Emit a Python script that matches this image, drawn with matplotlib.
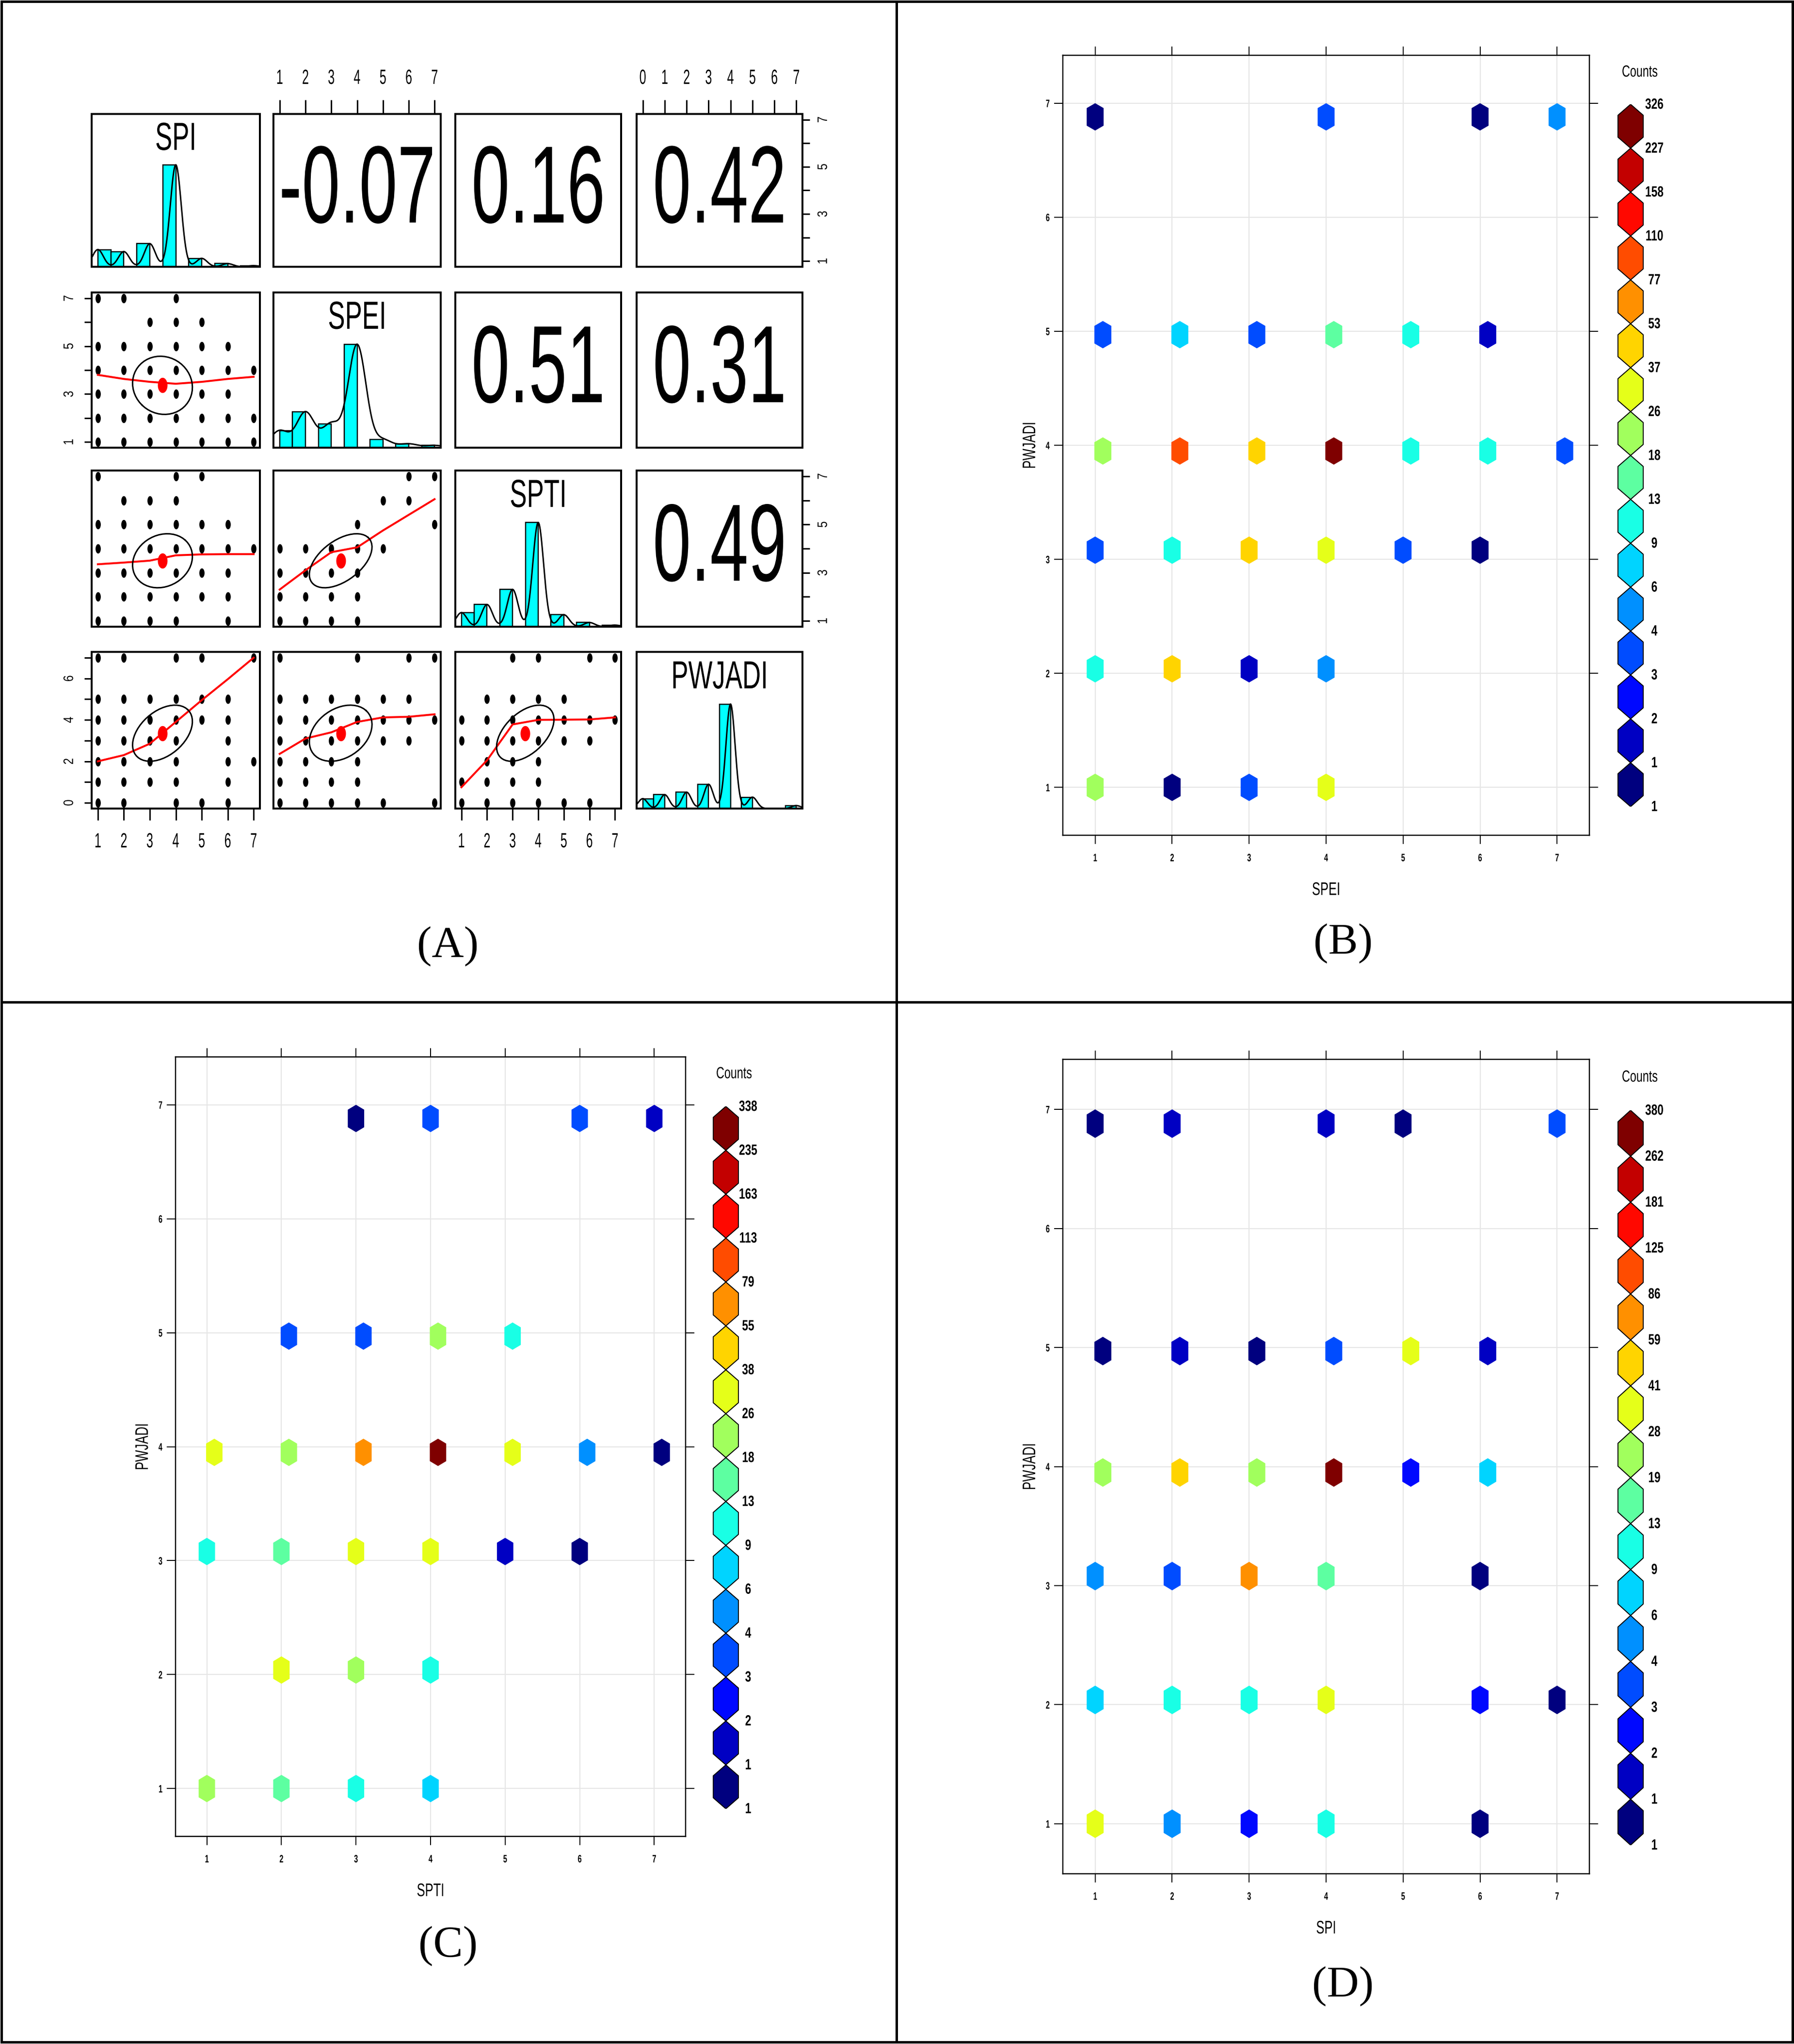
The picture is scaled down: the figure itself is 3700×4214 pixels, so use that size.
import numpy as np
import matplotlib
matplotlib.use("Agg")
import matplotlib.pyplot as plt
from matplotlib import font_manager
from matplotlib.collections import PolyCollection
from matplotlib.lines import Line2D
from matplotlib.path import Path
from matplotlib.patheffects import AbstractPathEffect

# ---------------- values ----------------
index_names = ["SPI", "SPEI", "SPTI", "PWJADI"]

# class frequencies behind the diagonal histograms of panel A
spi_values = [1, 2, 3, 4, 5, 6, 7]
spi_counts = [76, 67, 102, 450, 37, 14, 5]
spei_values = [1, 2, 3, 4, 5, 6, 7]
spei_counts = [66, 138, 92, 400, 31, 15, 9]
spti_values = [1, 2, 3, 4, 5, 6, 7]
spti_counts = [54, 85, 143, 400, 46, 16, 6]
pwjadi_values = [0, 1, 2, 3, 4, 5, 7]
pwjadi_counts = [40, 56, 66, 98, 422, 46, 12]

# correlations printed in the upper triangle
r_spi_spei = -0.07
r_spi_spti = 0.16
r_spi_pwjadi = 0.42
r_spei_spti = 0.51
r_spei_pwjadi = 0.31
r_spti_pwjadi = 0.49

# occupied (x, y) class pairs in the scatter panels, keyed by y class
pts_spei_vs_spi = {7: [1, 2, 4], 6: [3, 4, 5], 5: [1, 2, 3, 4, 5, 6],
                   4: [1, 2, 3, 4, 5, 6, 7], 3: [1, 2, 3, 4, 5, 6],
                   2: [1, 2, 3, 4, 5, 6, 7], 1: [1, 2, 3, 4, 5, 6, 7]}
pts_spti_vs_spi = {7: [1, 4, 5], 6: [2, 3, 4], 5: [1, 2, 3, 4, 5, 6],
                   4: [1, 2, 3, 4, 5, 6, 7], 3: [1, 2, 3, 4, 5, 6],
                   2: [1, 2, 3, 4, 5, 6], 1: [1, 2, 3, 4, 6]}
pts_spti_vs_spei = {7: [6, 7], 6: [5, 6], 5: [4, 7], 4: [1, 2, 3, 4, 5],
                    3: [1, 2, 3, 4], 2: [1, 2, 3, 4], 1: [1, 2, 3, 4]}
# PWJADI = 0 does not appear in the hexbin plots
pwjadi_zero_spi = [1, 2, 4, 5, 6]
pwjadi_zero_spei = [1, 2, 3, 4, 5, 7]
pwjadi_zero_spti = [1, 2, 3, 4, 5, 6]

# red smoother lines (y value at x = 1..7)
lowess_x = [1, 2, 3, 4, 5, 6, 7]
lowess_spei_on_spi = [3.80, 3.63, 3.51, 3.43, 3.51, 3.63, 3.72]
lowess_spti_on_spi = [3.35, 3.42, 3.50, 3.72, 3.76, 3.77, 3.77]
lowess_spti_on_spei = [2.30, 3.10, 3.85, 4.05, 4.75, 5.40, 6.05]
lowess_pwjadi_on_spi = [2.00, 2.30, 2.85, 3.90, 4.95, 5.96, 7.00]
lowess_pwjadi_on_spei = [2.36, 3.10, 3.40, 3.90, 4.12, 4.15, 4.27]
lowess_pwjadi_on_spti = [0.75, 2.05, 3.78, 4.00, 4.01, 4.02, 4.12]

# hexbin cells: x class, PWJADI class, colour level (1 = lowest count class)
b_x = [1, 4, 6, 7, 1, 2, 3, 4, 5, 6, 1, 2, 3, 4, 5, 6, 7, 1, 2, 3, 4, 5, 6, 1, 2, 3, 4, 1, 2, 3, 4]
b_y = [7, 7, 7, 7, 5, 5, 5, 5, 5, 5, 4, 4, 4, 4, 4, 4, 4, 3, 3, 3, 3, 3, 3, 2, 2, 2, 2, 1, 1, 1, 1]
b_lv = [1, 4, 1, 5, 4, 6, 4, 8, 7, 2, 9, 13, 11, 16, 7, 7, 4, 4, 7, 11, 10, 4, 1, 7, 11, 2, 5, 9, 1, 4, 10]

c_x = [3, 4, 6, 7, 2, 3, 4, 5, 1, 2, 3, 4, 5, 6, 7, 1, 2, 3, 4, 5, 6, 2, 3, 4, 1, 2, 3, 4]
c_y = [7, 7, 7, 7, 5, 5, 5, 5, 4, 4, 4, 4, 4, 4, 4, 3, 3, 3, 3, 3, 3, 2, 2, 2, 1, 1, 1, 1]
c_lv = [1, 4, 4, 2, 4, 4, 9, 7, 10, 9, 12, 16, 10, 5, 1, 7, 8, 10, 10, 2, 1, 10, 9, 7, 9, 8, 7, 6]

d_x = [1, 2, 4, 5, 7, 1, 2, 3, 4, 5, 6, 1, 2, 3, 4, 5, 6, 1, 2, 3, 4, 6, 1, 2, 3, 4, 6, 7, 1, 2, 3, 4, 6]
d_y = [7, 7, 7, 7, 7, 5, 5, 5, 5, 5, 5, 4, 4, 4, 4, 4, 4, 3, 3, 3, 3, 3, 2, 2, 2, 2, 2, 2, 1, 1, 1, 1, 1]
d_lv = [1, 2, 2, 1, 4, 1, 2, 1, 4, 10, 2, 9, 11, 9, 16, 3, 6, 5, 4, 12, 8, 1, 6, 7, 7, 10, 3, 1, 10, 5, 3, 7, 1]

# legend breaks, top to bottom
b_breaks = ["326", "227", "158", "110", "77", "53", "37", "26", "18", "13", "9", "6", "4", "3", "2", "1", "1"]
c_breaks = ["338", "235", "163", "113", "79", "55", "38", "26", "18", "13", "9", "6", "4", "3", "2", "1", "1"]
d_breaks = ["380", "262", "181", "125", "86", "59", "41", "28", "19", "13", "9", "6", "4", "3", "2", "1", "1"]

# hex grid row centres / offsets for each PWJADI class
hex_row_y = {1: 1.0, 2: 2.04, 3: 3.08, 4: 3.95, 5: 4.97, 6: 5.93, 7: 6.88}
hex_row_dx = {4: 0.1, 5: 0.1}

# ---------------- figure setup ----------------
W, H, DPI = 3700, 4214, 100
PX = 72.0 / DPI  # points per pixel

available = {f.name for f in font_manager.fontManager.ttflist}
sans = "Liberation Sans" if "Liberation Sans" in available else "DejaVu Sans"
serif = "Liberation Serif" if "Liberation Serif" in available else "DejaVu Serif"
plt.rcParams["font.family"] = [sans, "DejaVu Sans"]


class Stretch(AbstractPathEffect):
    """Draw glyphs taller than wide (the source figure was squashed sideways)."""

    def __init__(self, sx=1.0, sy=1.0):
        super().__init__()
        self.sx, self.sy = sx, sy

    def draw_path(self, renderer, gc, tpath, affine, rgbFace=None):
        v = np.array(tpath.vertices, dtype=float)
        if len(v):
            cx = 0.5 * (v[:, 0].min() + v[:, 0].max())
            cy = 0.5 * (v[:, 1].min() + v[:, 1].max())
            v[:, 0] = cx + (v[:, 0] - cx) * self.sx
            v[:, 1] = cy + (v[:, 1] - cy) * self.sy
        renderer.draw_path(gc, Path(v, tpath.codes), affine, rgbFace)


# jet-like palette of the hexbin plots (16 classes)
anchors = ["#00007F", "#0000FF", "#007FFF", "#00FFFF", "#7FFF7F", "#FFFF00", "#FF7F00", "#FF0000", "#7F0000"]
anchor_rgb = np.array([matplotlib.colors.to_rgb(a) for a in anchors])
t = np.linspace(0, len(anchors) - 1, 16)
palette = [tuple(np.interp(tt, np.arange(len(anchors)), anchor_rgb[:, k]) for k in range(3)) for tt in t]


def rect(l, t_, r, b):
    return [l / W, 1 - b / H, (r - l) / W, (b - t_) / H]


fig = plt.figure(figsize=(W / DPI, H / DPI), dpi=DPI)

# frames around the four panels
for (x0, y0, x1, y1) in [(3, 3, 3697, 3), (3, 4210, 3697, 4210), (3, 3, 3, 4210),
                         (3697, 3, 3697, 4210), (1849, 3, 1849, 4210), (3, 2066, 3697, 2066)]:
    fig.add_artist(Line2D([x0 / W, x1 / W], [1 - y0 / H, 1 - y1 / H],
                          transform=fig.transFigure, color="black", lw=5 * PX))


# ---------------- panel A: pairs plot ----------------
def ellipse_marker(aspect):
    a = np.linspace(0, 2 * np.pi, 40)
    return Path(np.column_stack([aspect * np.cos(a), np.sin(a)]), closed=True)


pt_marker = ellipse_marker(0.52)
mean_marker = ellipse_marker(0.62)

var_vals = [spi_values, spei_values, spti_values, pwjadi_values]
var_cnts = [spi_counts, spei_counts, spti_counts, pwjadi_counts]
raw = [np.repeat(v, c).astype(float) for v, c in zip(var_vals, var_cnts)]
lims = []
for v in var_vals:
    pad = 0.04 * (max(v) - min(v))
    lims.append((min(v) - pad, max(v) + pad))

corr = {(0, 1): r_spi_spei, (0, 2): r_spi_spti, (0, 3): r_spi_pwjadi,
        (1, 2): r_spei_spti, (1, 3): r_spei_pwjadi, (2, 3): r_spti_pwjadi}


def dict_points(d):
    xs, ys = [], []
    for yv, xlist in d.items():
        xs += xlist
        ys += [yv] * len(xlist)
    return xs, ys


scatter_pts = {
    (1, 0): dict_points(pts_spei_vs_spi),
    (2, 0): dict_points(pts_spti_vs_spi),
    (2, 1): dict_points(pts_spti_vs_spei),
    (3, 0): (d_x + pwjadi_zero_spi, d_y + [0] * len(pwjadi_zero_spi)),
    (3, 1): (b_x + pwjadi_zero_spei, b_y + [0] * len(pwjadi_zero_spei)),
    (3, 2): (c_x + pwjadi_zero_spti, c_y + [0] * len(pwjadi_zero_spti)),
}
lowess = {(1, 0): lowess_spei_on_spi, (2, 0): lowess_spti_on_spi, (2, 1): lowess_spti_on_spei,
          (3, 0): lowess_pwjadi_on_spi, (3, 1): lowess_pwjadi_on_spei, (3, 2): lowess_pwjadi_on_spti}

col_px = [(189, 536), (564, 909), (939, 1281), (1313, 1655)]
row_px = [(235, 550), (603, 923), (970, 1292), (1344, 1667)]

axes_a = {}
for i in range(4):
    for j in range(4):
        ax = fig.add_axes(rect(col_px[j][0], row_px[i][0], col_px[j][1], row_px[i][1]))
        axes_a[(i, j)] = ax
        for s in ax.spines.values():
            s.set_linewidth(4 * PX)
        ax.set_xticks([])
        ax.set_yticks([])
        ax.set_xlim(*lims[j])
        if i == j:
            vals = np.array(var_vals[i], float)
            cnts = np.array(var_cnts[i], float)
            lefts = np.where(vals == vals.min(), vals, vals - 0.5)
            ax.bar(lefts, cnts / cnts.max(), width=0.5, align="edge", color="#00FFFF",
                   edgecolor="black", lw=2.5 * PX, zorder=2)
            x = raw[i]
            q1, q3 = np.percentile(x, [25, 75])
            bw = 1.06 * min(x.std(ddof=1), (q3 - q1) / 1.34) * len(x) ** (-0.2)
            grid = np.linspace(x.min() - 3 * bw, x.max() + 3 * bw, 512)
            dens = np.exp(-0.5 * ((grid[:, None] - vals[None, :]) / bw) ** 2) @ cnts
            ax.plot(grid, dens / dens.max(), color="black", lw=3 * PX, zorder=3)
            ax.set_ylim(0, 1.5)
            ax.text(0.5, 0.84, index_names[i], transform=ax.transAxes, ha="center",
                    va="center", fontsize=38, path_effects=[Stretch(1.0, 1.53)])
        elif i < j:
            ax.set_ylim(*lims[i])
            ax.text(0.5, 0.5, f"{corr[(i, j)]:.2f}", transform=ax.transAxes, ha="center",
                    va="center", fontsize=102, path_effects=[Stretch(1.0, 1.6)])
        else:
            ax.set_ylim(*lims[i])
            xs, ys = scatter_pts[(i, j)]
            ax.plot(xs, ys, ls="none", marker=pt_marker, ms=18 * PX, color="black", zorder=2)
            ax.plot(lowess_x, lowess[(i, j)], color="red", lw=4 * PX, zorder=3)
            xm, xsd = raw[j].mean(), raw[j].std(ddof=1)
            ym, ysd = raw[i].mean(), raw[i].std(ddof=1)
            r = corr[(j, i)]
            th = np.sign(r) / np.sqrt(2) if r != 0 else 1 / np.sqrt(2)
            shape = np.diag([np.sqrt(1 + r), np.sqrt(1 - r)]) @ np.array([[th, th], [-th, th]])
            ang = np.linspace(0, 2 * np.pi, 52)
            ell = np.column_stack([np.cos(ang), np.sin(ang)]) @ shape
            ax.plot(ell[:, 0] * xsd + xm, ell[:, 1] * ysd + ym, color="black", lw=3 * PX, zorder=4)
            ax.plot([xm], [ym], ls="none", marker=mean_marker, ms=30 * PX, color="red", zorder=5)


def top_axis(ax, ticks):
    ax.xaxis.set_ticks_position("top")
    ax.set_xticks(ticks)
    ax.set_xticklabels([str(k) for k in ticks])
    ax.tick_params(axis="x", direction="out", length=29 * PX, width=3 * PX,
                   pad=34 * PX, labelsize=18)
    for lab in ax.get_xticklabels():
        lab.set_path_effects([Stretch(1.0, 1.7)])


def bottom_axis(ax, ticks):
    ax.xaxis.set_ticks_position("bottom")
    ax.set_xticks(ticks)
    ax.set_xticklabels([str(k) for k in ticks])
    ax.tick_params(axis="x", direction="out", length=24 * PX, width=3 * PX,
                   pad=31 * PX, labelsize=18)
    for lab in ax.get_xticklabels():
        lab.set_path_effects([Stretch(1.0, 1.7)])


def side_axis(ax, ticks, shown, side):
    ax.yaxis.set_ticks_position(side)
    ax.set_yticks(ticks)
    ax.set_yticklabels([str(k) if k in shown else "" for k in ticks], va="center")
    ax.tick_params(axis="y", direction="out", length=15 * PX, width=3 * PX, labelrotation=90,
                   pad=(17 if side == "right" else 20) * PX, labelsize=17)
    for lab in ax.get_yticklabels():
        lab.set_path_effects([Stretch(1.0, 1.2)])


top_axis(axes_a[(0, 1)], spei_values)
top_axis(axes_a[(0, 3)], list(range(0, 8)))
side_axis(axes_a[(0, 3)], spi_values, [1, 3, 5, 7], "right")
side_axis(axes_a[(1, 0)], spei_values, [1, 3, 5, 7], "left")
side_axis(axes_a[(2, 3)], spti_values, [1, 3, 5, 7], "right")
side_axis(axes_a[(3, 0)], list(range(0, 8)), [0, 2, 4, 6], "left")
bottom_axis(axes_a[(3, 0)], spi_values)
bottom_axis(axes_a[(3, 2)], spti_values)


# ---------------- panels B, C, D: hexbin plots ----------------
def hex_panel(box, xs, ys, lvs, xname, leg):
    ax = fig.add_axes(rect(*box))
    ax.set_xlim(0.58, 7.42)
    ax.set_ylim(0.58, 7.42)
    ax.set_xticks(range(1, 8))
    ax.set_yticks(range(1, 8))
    ax.grid(True, color="#E6E6E6", lw=2.2 * PX, zorder=0)
    ax.set_axisbelow(True)
    for s in ax.spines.values():
        s.set_linewidth(2.5 * PX)
    hw, hh, sh = 0.11, 0.12, 0.077
    verts, cols = [], []
    for xv, yv, lv in zip(xs, ys, lvs):
        cx = xv + hex_row_dx.get(yv, 0.0)
        cy = hex_row_y[yv]
        verts.append([(cx, cy + hh), (cx + hw, cy + sh), (cx + hw, cy - sh),
                      (cx, cy - hh), (cx - hw, cy - sh), (cx - hw, cy + sh)])
        cols.append(palette[lv - 1])
    ax.add_collection(PolyCollection(verts, facecolors=cols, edgecolors="none", zorder=2))
    ax.tick_params(direction="out", length=18 * PX, width=2 * PX, top=True, right=True,
                   labelsize=10.5)
    ax.tick_params(axis="x", pad=22 * PX)
    ax.tick_params(axis="y", pad=9 * PX)
    for lab in ax.get_xticklabels() + ax.get_yticklabels():
        lab.set_fontweight("bold")
        lab.set_path_effects([Stretch(1.0, 1.52)])
    ax.annotate(xname, xy=(0.5, 0), xycoords="axes fraction", xytext=(0, -112 * PX),
                textcoords="offset points", ha="center", va="center", fontsize=18.4,
                path_effects=[Stretch(1.0, 1.47)])
    ax.annotate("PWJADI", xy=(0, 0.5), xycoords="axes fraction", xytext=(-68 * PX, 0),
                textcoords="offset points", ha="center", va="center", fontsize=18.4,
                rotation=90, path_effects=[Stretch(1.0, 1.47)])

    # colour key
    cx_px, top, bottom, lab_px, cnt_x, cnt_y, breaks = leg
    lax = fig.add_axes(rect(cx_px - 60, top, cx_px + 100, bottom))
    lax.set_xlim(-60, 100)
    lax.set_ylim(0, 16)
    lax.axis("off")
    half = 26
    lverts = [[(0, k + 1), (half, k + 0.75), (half, k + 0.25), (0, k), (-half, k + 0.25),
               (-half, k + 0.75)] for k in range(16)]
    lax.add_collection(PolyCollection(lverts, facecolors=palette, edgecolors="black",
                                      linewidths=2 * PX))
    step = (bottom - top) / 16.0
    for k, lab in enumerate(breaks[::-1]):
        lax.text(lab_px - cx_px, k, lab, ha="center", va="center", fontsize=16.3,
                 fontweight="bold", clip_on=False, path_effects=[Stretch(1.0, 1.35)])
    lax.text(cnt_x - cx_px, 16 + (top - cnt_y) / step, "Counts", ha="center", va="center",
             fontsize=16.8, clip_on=False, path_effects=[Stretch(1.0, 1.43)])
    return ax


hex_panel((2192, 114, 3278, 1722), b_x, b_y, b_lv, "SPEI",
          (3363, 215, 1663, 3412, 3382, 148, b_breaks))
hex_panel((362, 2179, 1414, 3786), c_x, c_y, c_lv, "SPTI",
          (1497, 2281, 3729, 1543, 1514, 2213, c_breaks))
hex_panel((2192, 2184, 3278, 3863), d_x, d_y, d_lv, "SPI",
          (3363, 2289, 3804, 3412, 3382, 2220, d_breaks))

# panel letters
for lab, (px_x, px_y) in zip(["(A)", "(B)", "(C)", "(D)"],
                             [(924, 1951), (2770, 1945), (924, 4012), (2770, 4095)]):
    fig.text(px_x / W, 1 - px_y / H, lab, ha="center", va="center", fontsize=66,
             family=serif)

fig.savefig("out.png", dpi=DPI)
